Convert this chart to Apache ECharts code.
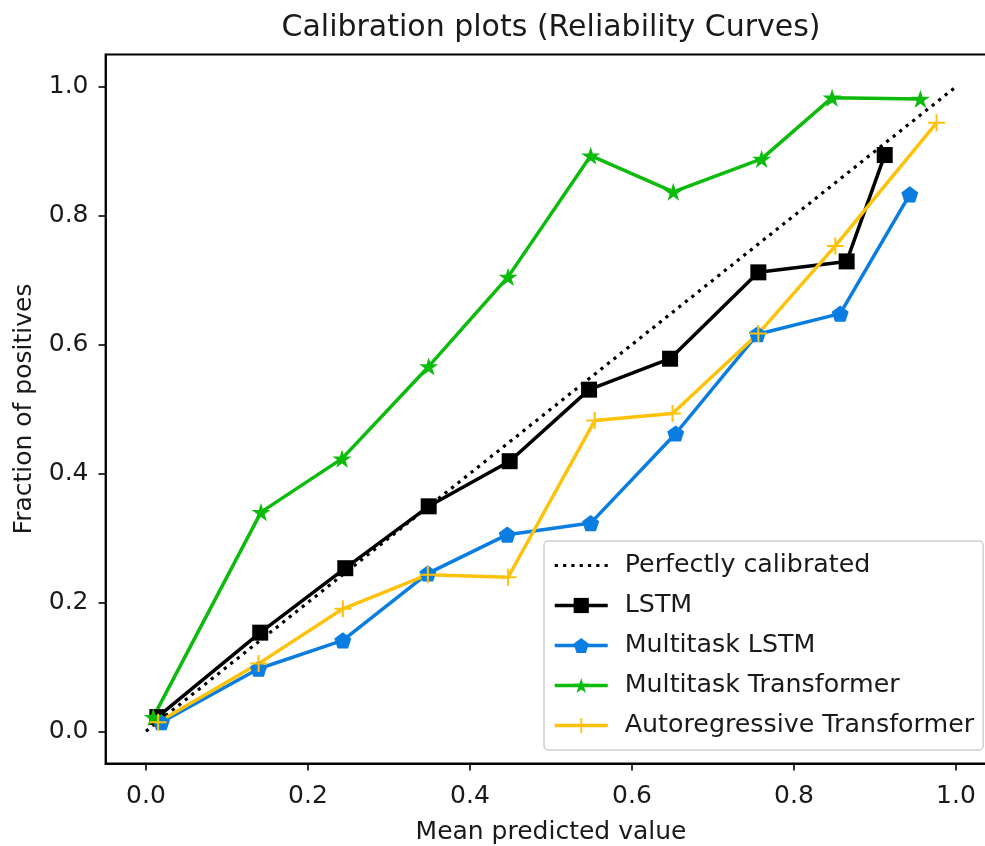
<!DOCTYPE html>
<html>
<head>
<meta charset="utf-8">
<script src="https://cdn.jsdelivr.net/npm/echarts@6/dist/echarts.min.js"></script>
<style>
  html, body { margin: 0; padding: 0; background: #fff; }
  #chart { width: 985px; height: 846px; }
</style>
</head>
<body>
<div id="chart"></div>
<script>
// Tick positions on both axes
const xTicks = [0.0, 0.2, 0.4, 0.6, 0.8, 1.0];
const yTicks = [0.0, 0.2, 0.4, 0.6, 0.8, 1.0];

// Reference diagonal
const perfectX = [0, 1];
const perfectY = [0, 1];

// Mean predicted value (x) and fraction of positives (y) per bin
const lstmX = [0.014, 0.141, 0.246, 0.349, 0.449, 0.547, 0.647, 0.756, 0.865, 0.912];
const lstmY = [0.022, 0.153, 0.253, 0.349, 0.419, 0.530, 0.578, 0.712, 0.729, 0.894];

const mtLstmX = [0.019, 0.139, 0.243, 0.348, 0.446, 0.549, 0.654, 0.755, 0.857, 0.943];
const mtLstmY = [0.014, 0.097, 0.141, 0.245, 0.305, 0.323, 0.462, 0.616, 0.648, 0.833];

const mtTransX = [0.009, 0.142, 0.242, 0.349, 0.447, 0.549, 0.651, 0.760, 0.847, 0.956];
const mtTransY = [0.022, 0.340, 0.423, 0.566, 0.705, 0.893, 0.837, 0.888, 0.983, 0.981];

const arTransX = [0.015, 0.139, 0.243, 0.348, 0.447, 0.554, 0.650, 0.756, 0.851, 0.976];
const arTransY = [0.014, 0.105, 0.190, 0.243, 0.239, 0.482, 0.493, 0.617, 0.753, 0.944];

const pair = (xs, ys) => xs.map((x, i) => [x, ys[i]]);

// Marker outlines
const STAR = 'path://M100 0 L122.5 69.1 L195.1 69.1 L136.3 111.8 L158.8 180.9 L100 138.2 L41.2 180.9 L63.7 111.8 L4.9 69.1 L77.5 69.1 Z';
const PENTAGON = 'path://M100 0 L195.1 69.1 L158.8 180.9 L41.2 180.9 L4.9 69.1 Z';
const PLUS = 'path://M88 0 H112 V88 H200 V112 H112 V200 H88 V112 H0 V88 H88 Z';
// Dotted stroke used as the legend key of the diagonal
const DOTS = 'path://M0 0h3.2v3.2h-3.2z M8.3 0h3.2v3.2h-3.2z M16.6 0h3.2v3.2h-3.2z M24.9 0h3.2v3.2h-3.2z ' +
             'M33.2 0h3.2v3.2h-3.2z M41.5 0h3.2v3.2h-3.2z M49.8 0h3.2v3.2h-3.2z';

const FONT = 'DejaVu Sans';
const TEXT = '#1a1a1a';
const LW = 3.5;

const chart = echarts.init(document.getElementById('chart'), null, { renderer: 'canvas' });

function curve(name, xs, ys, color, symbol, size) {
  return {
    name: name,
    type: 'line',
    data: pair(xs, ys),
    symbol: symbol,
    symbolSize: size,
    symbolKeepAspect: true,
    showAllSymbol: true,
    lineStyle: { color: color, width: LW },
    itemStyle: { color: color, borderWidth: 0 },
    emphasis: { disabled: true },
    clip: false
  };
}

const option = {
  animation: false,
  backgroundColor: '#ffffff',
  textStyle: { fontFamily: FONT },
  title: {
    text: 'Calibration plots (Reliability Curves)',
    left: 546,
    top: 8,
    textAlign: 'center',
    textStyle: { fontFamily: FONT, fontSize: 30, fontWeight: 'normal', color: TEXT }
  },
  grid: {
    left: 105.5,
    top: 54.5,
    width: 891,
    height: 709,
    show: true,
    borderColor: '#000',
    borderWidth: 1.8,
    backgroundColor: 'transparent',
    containLabel: false,
    outerBoundsMode: 'none'
  },
  xAxis: {
    type: 'value',
    min: -0.05,
    max: 1.05,
    name: 'Mean predicted value',
    nameLocation: 'middle',
    nameGap: 56,
    nameTextStyle: { fontFamily: FONT, fontSize: 25, color: TEXT },
    axisLine: { show: true, onZero: false, lineStyle: { color: '#000', width: 1.8 } },
    axisTick: { show: true, length: 7, lineStyle: { color: '#000', width: 1.6 }, customValues: xTicks },
    axisLabel: {
      fontFamily: FONT, fontSize: 25, color: TEXT, margin: 20,
      customValues: xTicks,
      formatter: v => v.toFixed(1)
    },
    splitLine: { show: false }
  },
  yAxis: {
    type: 'value',
    min: -0.05,
    max: 1.05,
    name: 'Fraction of positives',
    nameLocation: 'middle',
    nameGap: 69,
    nameTextStyle: { fontFamily: FONT, fontSize: 25, color: TEXT },
    axisLine: { show: true, onZero: false, lineStyle: { color: '#000', width: 1.8 } },
    axisTick: { show: true, length: 7, lineStyle: { color: '#000', width: 1.6 }, customValues: yTicks },
    axisLabel: {
      fontFamily: FONT, fontSize: 25, color: TEXT, margin: 17,
      customValues: yTicks,
      formatter: v => v.toFixed(1)
    },
    splitLine: { show: false }
  },
  legend: {
    orient: 'vertical',
    left: 544,
    top: 541,
    padding: [12, 9, 12, 9],
    itemWidth: 53,
    itemHeight: 19,
    itemGap: 15,
    backgroundColor: 'rgba(255,255,255,0.85)',
    borderColor: '#cfcfcf',
    borderWidth: 1.5,
    borderRadius: 4,
    selectedMode: false,
    lineStyle: { width: LW },
    textStyle: { fontFamily: FONT, fontSize: 25.3, color: TEXT, padding: [0, 0, 0, 12] },
    data: [
      { name: 'Perfectly calibrated', icon: DOTS },
      'LSTM', 'Multitask LSTM', 'Multitask Transformer', 'Autoregressive Transformer'
    ]
  },
  series: [
    {
      name: 'Perfectly calibrated',
      type: 'line',
      data: pair(perfectX, perfectY),
      symbol: 'none',
      lineStyle: { color: '#000', width: 3.2, type: [3.2, 5.1], cap: 'butt' },
      itemStyle: { color: '#000' },
      emphasis: { disabled: true },
      clip: false
    },
    curve('LSTM', lstmX, lstmY, '#000000', 'rect', 16),
    curve('Multitask LSTM', mtLstmX, mtLstmY, '#0a7ee0', PENTAGON, 17),
    curve('Multitask Transformer', mtTransX, mtTransY, '#0dbb0d', STAR, 19),
    curve('Autoregressive Transformer', arTransX, arTransY, '#ffc20a', PLUS, 17)
  ]
};

chart.setOption(option);
</script>
</body>
</html>
